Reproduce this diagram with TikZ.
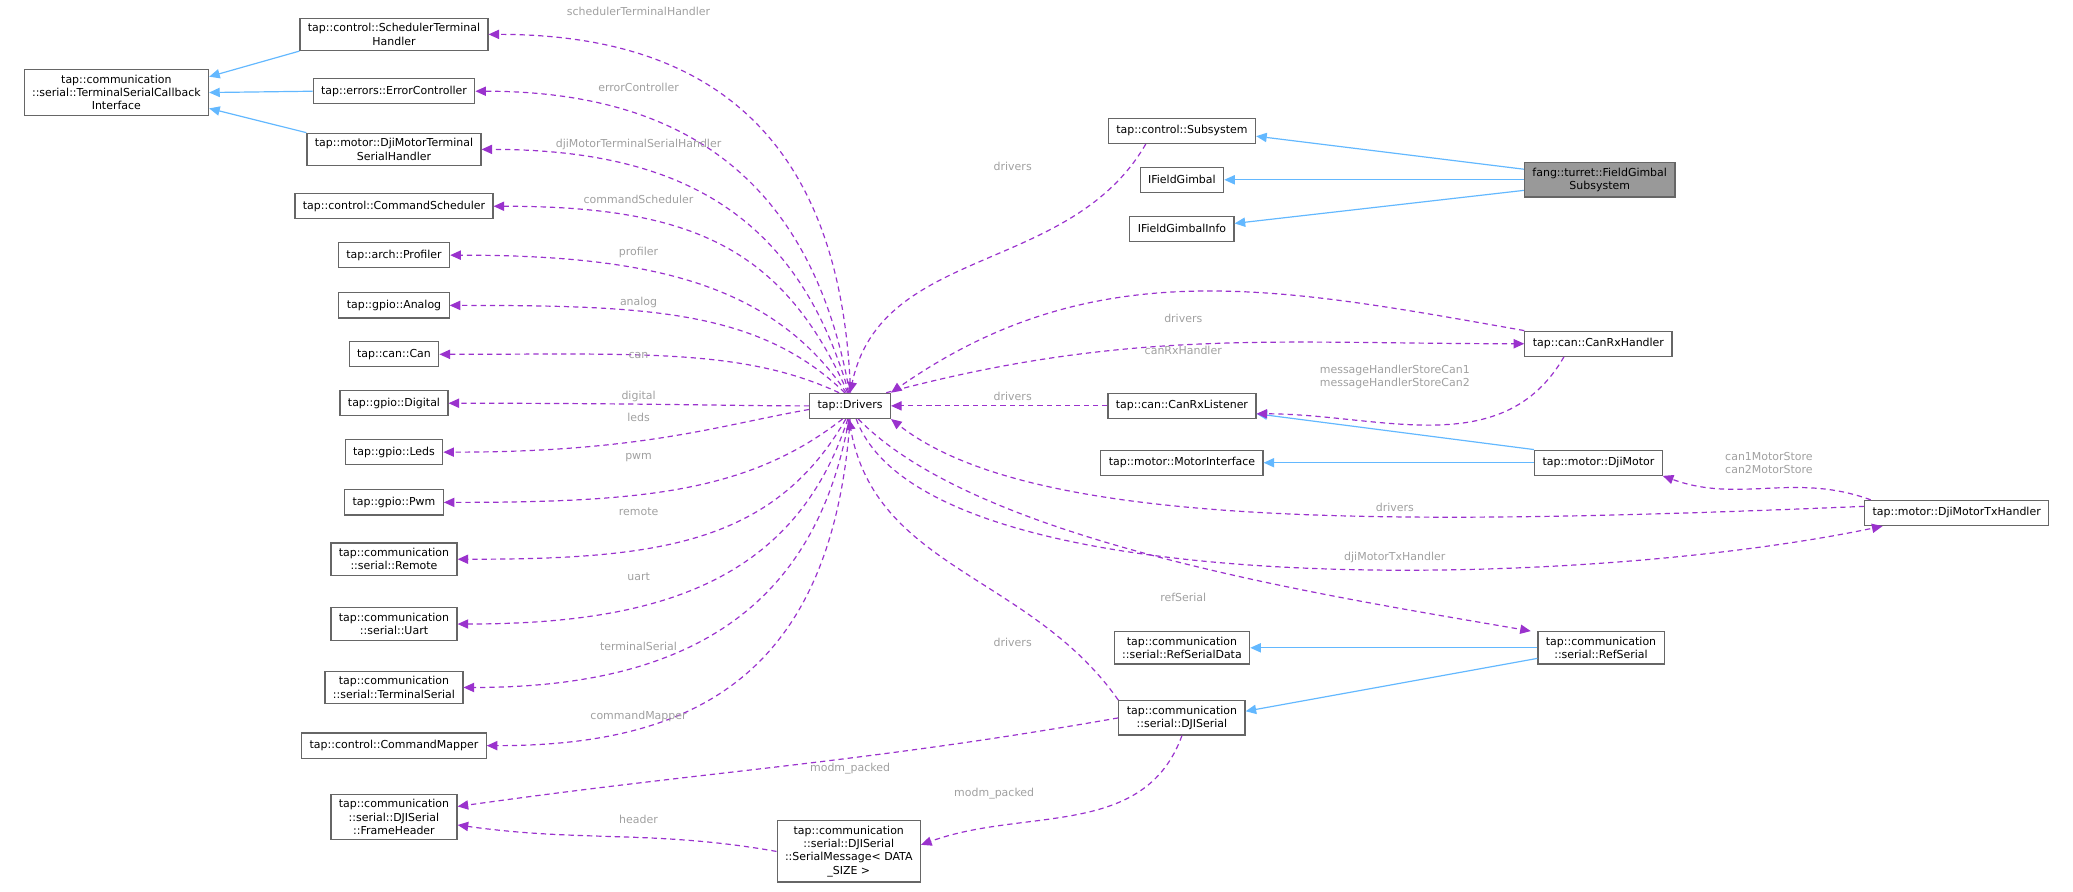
\documentclass[tikz,border=0pt]{standalone}
\usepackage{fontspec}
\setmainfont{DejaVu Sans}
\usetikzlibrary{arrows.meta}

\definecolor{inhblue}{HTML}{63B8FF}
\definecolor{deppurple}{HTML}{9A32CD}
\definecolor{boxgray}{HTML}{666666}
\definecolor{lblgray}{HTML}{A0A0A0}
\definecolor{curgray}{HTML}{999999}

\tikzset{
  cls/.style={draw=boxgray, fill=white, line width=0.9pt, align=center,
    font=\fontsize{8.3}{10}\selectfont, inner xsep=6pt, inner ysep=4pt, minimum height=19pt},
  cur/.style={cls, fill=curgray},
  inh/.style={draw=inhblue, line width=0.9pt, -{Triangle[length=8pt,width=7pt]}},
  dep/.style={draw=deppurple, line width=0.9pt, dash pattern=on 4pt off 3pt,
    -{Triangle[length=8pt,width=7pt]}},
  lbl/.style={text=lblgray, font=\fontsize{8.3}{10}\selectfont, align=center, inner sep=1pt},
}

\begin{document}
\begin{tikzpicture}[x=1pt, y=-1pt]
  \useasboundingbox (0,0) rectangle (1568,674);

  % classes
  \node[cls] (tsci) at (88,70) {tap::communication\\::serial::TerminalSerialCallback\\Interface};
  \node[cls] (sched) at (298,26) {tap::control::SchedulerTerminal\\Handler};
  \node[cls] (errc) at (298,69) {tap::errors::ErrorController};
  \node[cls] (djtsh) at (298,113) {tap::motor::DjiMotorTerminal\\SerialHandler};
  \node[cls] (cmdsch) at (298,156) {tap::control::CommandScheduler};
  \node[cls] (prof) at (298,193) {tap::arch::Profiler};
  \node[cls] (analog) at (298,231) {tap::gpio::Analog};
  \node[cls] (can) at (298,268) {tap::can::Can};
  \node[cls] (digital) at (298,305) {tap::gpio::Digital};
  \node[cls] (leds) at (298,342) {tap::gpio::Leds};
  \node[cls] (pwm) at (298,380) {tap::gpio::Pwm};
  \node[cls] (remote) at (298,423) {tap::communication\\::serial::Remote};
  \node[cls] (uart) at (298,472) {tap::communication\\::serial::Uart};
  \node[cls] (termser) at (298,520) {tap::communication\\::serial::TerminalSerial};
  \node[cls] (cmdmap) at (298,564) {tap::control::CommandMapper};
  \node[cls] (frameh) at (298,618) {tap::communication\\::serial::DJISerial\\::FrameHeader};
  \node[cls] (sermsg) at (642,644) {tap::communication\\::serial::DJISerial\\::SerialMessage< DATA\\\_SIZE >};

  \node[cls] (drv) at (643,307) {tap::Drivers};

  \node[cls] (sub) at (894,99) {tap::control::Subsystem};
  \node[cls] (ifg) at (894,136) {IFieldGimbal};
  \node[cls] (ifgi) at (894,173) {IFieldGimbalInfo};
  \node[cur] (fgs) at (1210,136) {fang::turret::FieldGimbal\\Subsystem};
  \node[cls] (canrxh) at (1209,260) {tap::can::CanRxHandler};
  \node[cls] (canrxl) at (894,307) {tap::can::CanRxListener};
  \node[cls] (motint) at (894,350) {tap::motor::MotorInterface};
  \node[cls] (djimotor) at (1209,350) {tap::motor::DjiMotor};
  \node[cls] (txh) at (1480,388) {tap::motor::DjiMotorTxHandler};
  \node[cls] (rsdata) at (894,490) {tap::communication\\::serial::RefSerialData};
  \node[cls] (refser) at (1211,490) {tap::communication\\::serial::RefSerial};
  \node[cls] (djiser) at (894,543) {tap::communication\\::serial::DJISerial};

  % inheritance
  \draw[inh] (sched.south west) -- ([yshift=12pt]tsci.east);
  \draw[inh] (errc.west) -- (tsci.east);
  \draw[inh] (djtsh.north west) -- ([yshift=-12pt]tsci.east);
  \draw[inh] ([yshift=8pt]fgs.west) -- ([yshift=-4pt]sub.east);
  \draw[inh] (fgs.west) -- (ifg.east);
  \draw[inh] ([yshift=-8pt]fgs.west) -- ([yshift=4pt]ifgi.east);
  \draw[inh] (djimotor.north west) -- ([yshift=-6pt]canrxl.east);
  \draw[inh] (djimotor.west) -- (motint.east);
  \draw[inh] (refser.west) -- (rsdata.east);
  \draw[inh] ([yshift=-8pt]refser.west) -- ([yshift=5pt]djiser.east);

  % members of tap::Drivers
  \foreach \n/\a/\o/\l/\t/\ly in {
      sched/88/92/210/schedulerTerminalHandler/9,
      errc/92/100/170/errorController/66,
      djtsh/96/106/140/djiMotorTerminalSerialHandler/109,
      cmdsch/100/114/120/commandScheduler/151,
      prof/106/124/100/profiler/191,
      analog/112/136/90/analog/229,
      can/130/155/80/can/269,
      digital/180/180/60/digital/300,
      leds/185/190/70/leds/316,
      pwm/240/218/90/pwm/346,
      remote/252/240/110/remote/387,
      uart/260/252/130/uart/436,
      termser/265/260/160/terminalSerial/489,
      cmdmap/270/266/200/commandMapper/542} {
    \draw[dep] (drv.\a) .. controls +({-\o}:\l) and +(150,0) .. (\n.east);
    \node[lbl] at (483,\ly) {\t};
  }

  \draw[dep] (sub.200) to[out=240, in=78] (drv.north);
  \node[lbl] at (766,126) {drivers};
  \draw[dep] (canrxh.north west) to[out=170, in=35] (drv.north east);
  \node[lbl] at (895,241) {drivers};
  \draw[dep] (drv.20) to[out=15, in=180] (canrxh.west);
  \node[lbl] at (895,265) {canRxHandler};
  \draw[dep] (canrxh.south west) ++(30,0) to[out=-120, in=0] ([yshift=-6pt]canrxl.east);
  \node[lbl] at (1055,285) {messageHandlerStoreCan1\\messageHandlerStoreCan2};
  \draw[dep] (canrxl.west) -- (drv.east);
  \node[lbl] at (766,300) {drivers};
  \draw[dep] (txh.north west) ++(5,0) to[out=160, in=-20] (djimotor.south east);
  \node[lbl] at (1338,350) {can1MotorStore\\can2MotorStore};
  \draw[dep] ([yshift=5pt]txh.west) .. controls (1050,398) and (780,400) .. (drv.south east);
  \node[lbl] at (1055,384) {drivers};
  \draw[dep] (drv.-65) .. controls (700,460) and (1200,445) .. ([xshift=14pt]txh.south west);
  \node[lbl] at (1055,422) {djiMotorTxHandler};
  \draw[dep] (drv.-58) .. controls (740,410) and (1000,450) .. ([xshift=-5pt]refser.north west);
  \node[lbl] at (895,452) {refSerial};
  \draw[dep] (djiser.north west) to[out=125, in=-80] (drv.-95);
  \node[lbl] at (766,486) {drivers};
  \draw[dep] (djiser.west) to[out=190, in=8] ([yshift=8pt]frameh.east);
  \node[lbl] at (643,581) {modm\_packed};
  \draw[dep] (djiser.south) to[out=-110, in=20] ([yshift=5pt]sermsg.east);
  \node[lbl] at (752,600) {modm\_packed};
  \draw[dep] (sermsg.west) to[out=170, in=-8] ([yshift=-6pt]frameh.east);
  \node[lbl] at (483,620) {header};
\end{tikzpicture}
\end{document}
